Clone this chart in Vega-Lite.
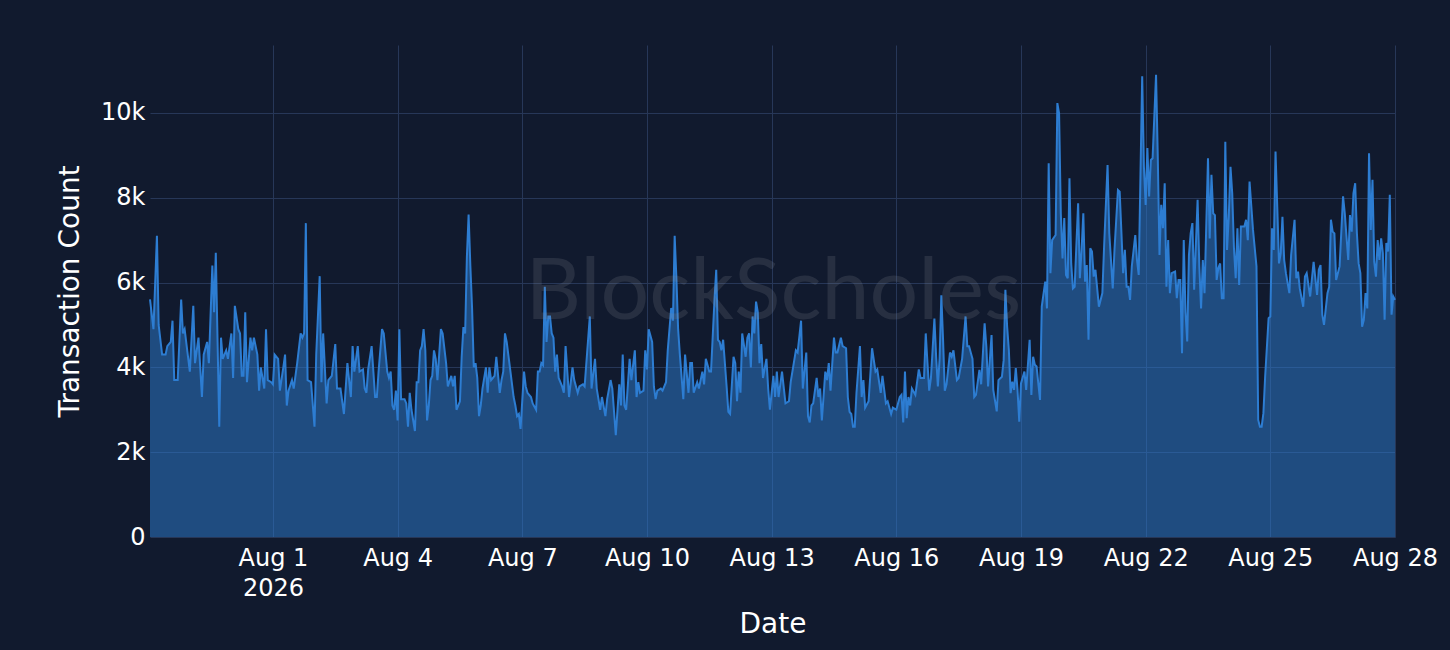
{
  "$schema": "https://vega.github.io/schema/vega-lite/v6.json",
  "width": 1245,
  "height": 492,
  "autosize": {"type": "none"},
  "padding": {"left": 150, "top": 45, "right": 55, "bottom": 113},
  "background": "#111a2e",
  "config": {"view": {"stroke": null}, "font": "DejaVu Sans"},
  "data": {
    "values": [
      {"t": "2026-07-29T01:00", "v": 5600}, {"t": "2026-07-29T03:00", "v": 4900}, {"t": "2026-07-29T05:00", "v": 7100}, {"t": "2026-07-29T06:00", "v": 5000},
      {"t": "2026-07-29T08:00", "v": 4300}, {"t": "2026-07-29T10:00", "v": 4300}, {"t": "2026-07-29T11:00", "v": 4500}, {"t": "2026-07-29T13:00", "v": 4600},
      {"t": "2026-07-29T14:00", "v": 5100}, {"t": "2026-07-29T15:00", "v": 3700}, {"t": "2026-07-29T17:00", "v": 3700}, {"t": "2026-07-29T19:00", "v": 5600},
      {"t": "2026-07-29T20:00", "v": 4800}, {"t": "2026-07-29T21:00", "v": 4900},
      {"t": "2026-07-30T00:00", "v": 3900}, {"t": "2026-07-30T02:00", "v": 5450}, {"t": "2026-07-30T03:00", "v": 4100}, {"t": "2026-07-30T05:00", "v": 4700},
      {"t": "2026-07-30T07:00", "v": 3300}, {"t": "2026-07-30T08:00", "v": 4300}, {"t": "2026-07-30T10:00", "v": 4600}, {"t": "2026-07-30T11:00", "v": 4100},
      {"t": "2026-07-30T13:00", "v": 6400}, {"t": "2026-07-30T14:00", "v": 5300}, {"t": "2026-07-30T15:00", "v": 6700}, {"t": "2026-07-30T17:00", "v": 2600},
      {"t": "2026-07-30T18:00", "v": 4700}, {"t": "2026-07-30T19:00", "v": 4200}, {"t": "2026-07-30T21:00", "v": 4400}, {"t": "2026-07-30T22:00", "v": 4200},
      {"t": "2026-07-31T00:00", "v": 4800}, {"t": "2026-07-31T01:00", "v": 3750}, {"t": "2026-07-31T02:00", "v": 5450}, {"t": "2026-07-31T04:00", "v": 4900},
      {"t": "2026-07-31T05:00", "v": 4800}, {"t": "2026-07-31T06:00", "v": 3800}, {"t": "2026-07-31T07:00", "v": 3800}, {"t": "2026-07-31T08:00", "v": 5300},
      {"t": "2026-07-31T09:00", "v": 3650}, {"t": "2026-07-31T11:00", "v": 4700}, {"t": "2026-07-31T12:00", "v": 4400}, {"t": "2026-07-31T13:00", "v": 4700},
      {"t": "2026-07-31T15:00", "v": 4300}, {"t": "2026-07-31T16:00", "v": 3450}, {"t": "2026-07-31T17:00", "v": 4000}, {"t": "2026-07-31T19:00", "v": 3500},
      {"t": "2026-07-31T20:00", "v": 4900}, {"t": "2026-07-31T21:00", "v": 3700}, {"t": "2026-07-31T23:00", "v": 3650},
      {"t": "2026-08-01T00:00", "v": 3600}, {"t": "2026-08-01T01:00", "v": 4300}, {"t": "2026-08-01T03:00", "v": 4200}, {"t": "2026-08-01T04:00", "v": 3450},
      {"t": "2026-08-01T06:00", "v": 4000}, {"t": "2026-08-01T07:00", "v": 4300}, {"t": "2026-08-01T08:00", "v": 3100}, {"t": "2026-08-01T09:00", "v": 3450},
      {"t": "2026-08-01T11:00", "v": 3700}, {"t": "2026-08-01T12:00", "v": 3500}, {"t": "2026-08-01T14:00", "v": 4100}, {"t": "2026-08-01T16:00", "v": 4800},
      {"t": "2026-08-01T17:00", "v": 4700}, {"t": "2026-08-01T18:00", "v": 4800}, {"t": "2026-08-01T19:00", "v": 7400}, {"t": "2026-08-01T20:00", "v": 3700},
      {"t": "2026-08-01T22:00", "v": 3650},
      {"t": "2026-08-02T00:00", "v": 2600}, {"t": "2026-08-02T01:00", "v": 4300}, {"t": "2026-08-02T03:00", "v": 6150}, {"t": "2026-08-02T04:00", "v": 3650},
      {"t": "2026-08-02T05:00", "v": 4800}, {"t": "2026-08-02T07:00", "v": 3150}, {"t": "2026-08-02T08:00", "v": 3700}, {"t": "2026-08-02T10:00", "v": 3800},
      {"t": "2026-08-02T12:00", "v": 4550}, {"t": "2026-08-02T13:00", "v": 3500}, {"t": "2026-08-02T15:00", "v": 3500}, {"t": "2026-08-02T17:00", "v": 2900},
      {"t": "2026-08-02T19:00", "v": 4100}, {"t": "2026-08-02T21:00", "v": 3300}, {"t": "2026-08-02T22:00", "v": 4500}, {"t": "2026-08-02T23:00", "v": 3900},
      {"t": "2026-08-03T01:00", "v": 4500}, {"t": "2026-08-03T02:00", "v": 3900}, {"t": "2026-08-03T04:00", "v": 3950}, {"t": "2026-08-03T05:00", "v": 3500},
      {"t": "2026-08-03T06:00", "v": 3400}, {"t": "2026-08-03T07:00", "v": 3950}, {"t": "2026-08-03T09:00", "v": 4500}, {"t": "2026-08-03T11:00", "v": 3300},
      {"t": "2026-08-03T12:00", "v": 3300}, {"t": "2026-08-03T13:00", "v": 3900}, {"t": "2026-08-03T15:00", "v": 4900}, {"t": "2026-08-03T16:00", "v": 4800},
      {"t": "2026-08-03T18:00", "v": 3900}, {"t": "2026-08-03T19:00", "v": 3750}, {"t": "2026-08-03T20:00", "v": 3900}, {"t": "2026-08-03T21:00", "v": 3100},
      {"t": "2026-08-03T22:00", "v": 3000}, {"t": "2026-08-03T23:00", "v": 3450},
      {"t": "2026-08-04T00:00", "v": 2750}, {"t": "2026-08-04T01:00", "v": 4900}, {"t": "2026-08-04T02:00", "v": 3250}, {"t": "2026-08-04T04:00", "v": 3250},
      {"t": "2026-08-04T05:00", "v": 3150}, {"t": "2026-08-04T06:00", "v": 2600}, {"t": "2026-08-04T07:00", "v": 3400}, {"t": "2026-08-04T08:00", "v": 3000},
      {"t": "2026-08-04T10:00", "v": 2500}, {"t": "2026-08-04T11:00", "v": 3650}, {"t": "2026-08-04T12:00", "v": 3650}, {"t": "2026-08-04T13:00", "v": 4400},
      {"t": "2026-08-04T14:00", "v": 4500}, {"t": "2026-08-04T15:00", "v": 4900}, {"t": "2026-08-04T16:00", "v": 4400}, {"t": "2026-08-04T17:00", "v": 2750},
      {"t": "2026-08-04T18:00", "v": 3100}, {"t": "2026-08-04T19:00", "v": 3700}, {"t": "2026-08-04T20:00", "v": 3800}, {"t": "2026-08-04T21:00", "v": 4400},
      {"t": "2026-08-04T22:00", "v": 4200}, {"t": "2026-08-04T23:00", "v": 3700},
      {"t": "2026-08-05T00:00", "v": 4300}, {"t": "2026-08-05T01:00", "v": 4900}, {"t": "2026-08-05T02:00", "v": 4800}, {"t": "2026-08-05T04:00", "v": 4100},
      {"t": "2026-08-05T05:00", "v": 3550}, {"t": "2026-08-05T07:00", "v": 3800}, {"t": "2026-08-05T08:00", "v": 3550}, {"t": "2026-08-05T09:00", "v": 3800},
      {"t": "2026-08-05T10:00", "v": 3000}, {"t": "2026-08-05T12:00", "v": 3200}, {"t": "2026-08-05T13:00", "v": 4250}, {"t": "2026-08-05T14:00", "v": 4950},
      {"t": "2026-08-05T15:00", "v": 4800}, {"t": "2026-08-05T16:00", "v": 6600}, {"t": "2026-08-05T17:00", "v": 7600}, {"t": "2026-08-05T18:00", "v": 6400},
      {"t": "2026-08-05T19:00", "v": 5400}, {"t": "2026-08-05T20:00", "v": 4000}, {"t": "2026-08-05T21:00", "v": 4100}, {"t": "2026-08-05T22:00", "v": 3750},
      {"t": "2026-08-05T23:00", "v": 2850},
      {"t": "2026-08-06T00:00", "v": 3100}, {"t": "2026-08-06T01:00", "v": 3500}, {"t": "2026-08-06T03:00", "v": 4000}, {"t": "2026-08-06T04:00", "v": 3400},
      {"t": "2026-08-06T05:00", "v": 4000}, {"t": "2026-08-06T06:00", "v": 3700}, {"t": "2026-08-06T08:00", "v": 3800}, {"t": "2026-08-06T09:00", "v": 4250},
      {"t": "2026-08-06T11:00", "v": 3400}, {"t": "2026-08-06T12:00", "v": 3700}, {"t": "2026-08-06T13:00", "v": 3900}, {"t": "2026-08-06T14:00", "v": 4800},
      {"t": "2026-08-06T15:00", "v": 4600}, {"t": "2026-08-06T17:00", "v": 3950}, {"t": "2026-08-06T19:00", "v": 3300}, {"t": "2026-08-06T20:00", "v": 3100},
      {"t": "2026-08-06T21:00", "v": 2850}, {"t": "2026-08-06T22:00", "v": 2900}, {"t": "2026-08-06T23:00", "v": 2550},
      {"t": "2026-08-07T01:00", "v": 3900}, {"t": "2026-08-07T02:00", "v": 3550}, {"t": "2026-08-07T03:00", "v": 3400}, {"t": "2026-08-07T05:00", "v": 3300},
      {"t": "2026-08-07T06:00", "v": 3150}, {"t": "2026-08-07T08:00", "v": 3000}, {"t": "2026-08-07T09:00", "v": 3900}, {"t": "2026-08-07T10:00", "v": 3900},
      {"t": "2026-08-07T11:00", "v": 4100}, {"t": "2026-08-07T12:00", "v": 4050}, {"t": "2026-08-07T13:00", "v": 5900}, {"t": "2026-08-07T14:00", "v": 4600},
      {"t": "2026-08-07T15:00", "v": 5200}, {"t": "2026-08-07T16:00", "v": 5200}, {"t": "2026-08-07T17:00", "v": 4800}, {"t": "2026-08-07T18:00", "v": 4700},
      {"t": "2026-08-07T19:00", "v": 3900}, {"t": "2026-08-07T20:00", "v": 4300}, {"t": "2026-08-07T21:00", "v": 3750}, {"t": "2026-08-07T23:00", "v": 3550},
      {"t": "2026-08-08T00:00", "v": 3400}, {"t": "2026-08-08T01:00", "v": 4500}, {"t": "2026-08-08T03:00", "v": 3300}, {"t": "2026-08-08T05:00", "v": 4000},
      {"t": "2026-08-08T06:00", "v": 3700}, {"t": "2026-08-08T08:00", "v": 3400}, {"t": "2026-08-08T09:00", "v": 3550}, {"t": "2026-08-08T11:00", "v": 3600},
      {"t": "2026-08-08T12:00", "v": 3550}, {"t": "2026-08-08T15:00", "v": 5200}, {"t": "2026-08-08T16:00", "v": 3500}, {"t": "2026-08-08T18:00", "v": 4200},
      {"t": "2026-08-08T19:00", "v": 3500}, {"t": "2026-08-08T21:00", "v": 3000}, {"t": "2026-08-08T22:00", "v": 3300},
      {"t": "2026-08-09T00:00", "v": 2850}, {"t": "2026-08-09T01:00", "v": 3250}, {"t": "2026-08-09T03:00", "v": 3700}, {"t": "2026-08-09T04:00", "v": 3500},
      {"t": "2026-08-09T06:00", "v": 2400}, {"t": "2026-08-09T08:00", "v": 3600}, {"t": "2026-08-09T09:00", "v": 3100}, {"t": "2026-08-09T10:00", "v": 4300},
      {"t": "2026-08-09T11:00", "v": 3100}, {"t": "2026-08-09T12:00", "v": 3000}, {"t": "2026-08-09T14:00", "v": 4200}, {"t": "2026-08-09T15:00", "v": 3700},
      {"t": "2026-08-09T17:00", "v": 4400}, {"t": "2026-08-09T18:00", "v": 3300}, {"t": "2026-08-09T19:00", "v": 3650}, {"t": "2026-08-09T20:00", "v": 3400},
      {"t": "2026-08-09T22:00", "v": 3450}, {"t": "2026-08-09T23:00", "v": 4400},
      {"t": "2026-08-10T00:00", "v": 3950}, {"t": "2026-08-10T01:00", "v": 4900}, {"t": "2026-08-10T03:00", "v": 4600}, {"t": "2026-08-10T04:00", "v": 3550},
      {"t": "2026-08-10T05:00", "v": 3250}, {"t": "2026-08-10T06:00", "v": 3450}, {"t": "2026-08-10T08:00", "v": 3500}, {"t": "2026-08-10T09:00", "v": 3450},
      {"t": "2026-08-10T11:00", "v": 3650}, {"t": "2026-08-10T12:00", "v": 4400}, {"t": "2026-08-10T14:00", "v": 5400}, {"t": "2026-08-10T15:00", "v": 5100},
      {"t": "2026-08-10T16:00", "v": 7100}, {"t": "2026-08-10T17:00", "v": 6100}, {"t": "2026-08-10T18:00", "v": 4900}, {"t": "2026-08-10T19:00", "v": 4300},
      {"t": "2026-08-10T21:00", "v": 3250}, {"t": "2026-08-10T22:00", "v": 4300},
      {"t": "2026-08-11T00:00", "v": 3400}, {"t": "2026-08-11T01:00", "v": 4100}, {"t": "2026-08-11T02:00", "v": 4100}, {"t": "2026-08-11T03:00", "v": 3400},
      {"t": "2026-08-11T05:00", "v": 3650}, {"t": "2026-08-11T06:00", "v": 3500}, {"t": "2026-08-11T08:00", "v": 3900}, {"t": "2026-08-11T09:00", "v": 3600},
      {"t": "2026-08-11T10:00", "v": 4200}, {"t": "2026-08-11T12:00", "v": 3900}, {"t": "2026-08-11T13:00", "v": 3900}, {"t": "2026-08-11T15:00", "v": 5600},
      {"t": "2026-08-11T16:00", "v": 6300}, {"t": "2026-08-11T17:00", "v": 4650}, {"t": "2026-08-11T18:00", "v": 4600}, {"t": "2026-08-11T19:00", "v": 4400},
      {"t": "2026-08-11T20:00", "v": 4650}, {"t": "2026-08-11T22:00", "v": 3550}, {"t": "2026-08-11T23:00", "v": 2950},
      {"t": "2026-08-12T00:00", "v": 2900}, {"t": "2026-08-12T02:00", "v": 4250}, {"t": "2026-08-12T03:00", "v": 4100}, {"t": "2026-08-12T04:00", "v": 3200},
      {"t": "2026-08-12T05:00", "v": 3900}, {"t": "2026-08-12T06:00", "v": 3400}, {"t": "2026-08-12T07:00", "v": 4800}, {"t": "2026-08-12T09:00", "v": 4250},
      {"t": "2026-08-12T10:00", "v": 4700}, {"t": "2026-08-12T11:00", "v": 4800}, {"t": "2026-08-12T12:00", "v": 4000}, {"t": "2026-08-12T13:00", "v": 5200},
      {"t": "2026-08-12T14:00", "v": 4800}, {"t": "2026-08-12T15:00", "v": 5550}, {"t": "2026-08-12T16:00", "v": 5300}, {"t": "2026-08-12T17:00", "v": 4100},
      {"t": "2026-08-12T18:00", "v": 4550}, {"t": "2026-08-12T19:00", "v": 3750}, {"t": "2026-08-12T21:00", "v": 4200}, {"t": "2026-08-12T22:00", "v": 3500},
      {"t": "2026-08-12T23:00", "v": 3000},
      {"t": "2026-08-13T01:00", "v": 3800}, {"t": "2026-08-13T02:00", "v": 3300}, {"t": "2026-08-13T03:00", "v": 3900}, {"t": "2026-08-13T04:00", "v": 3300},
      {"t": "2026-08-13T06:00", "v": 3900}, {"t": "2026-08-13T08:00", "v": 3150}, {"t": "2026-08-13T10:00", "v": 3200}, {"t": "2026-08-13T11:00", "v": 3650},
      {"t": "2026-08-13T14:00", "v": 4400}, {"t": "2026-08-13T15:00", "v": 4350}, {"t": "2026-08-13T17:00", "v": 5100}, {"t": "2026-08-13T18:00", "v": 3500},
      {"t": "2026-08-13T20:00", "v": 4350}, {"t": "2026-08-13T21:00", "v": 2850}, {"t": "2026-08-13T22:00", "v": 2700}, {"t": "2026-08-13T23:00", "v": 3100},
      {"t": "2026-08-14T00:00", "v": 3150}, {"t": "2026-08-14T02:00", "v": 3750}, {"t": "2026-08-14T03:00", "v": 3300}, {"t": "2026-08-14T04:00", "v": 3500},
      {"t": "2026-08-14T05:00", "v": 2750}, {"t": "2026-08-14T07:00", "v": 3900}, {"t": "2026-08-14T08:00", "v": 3700}, {"t": "2026-08-14T09:00", "v": 4100},
      {"t": "2026-08-14T10:00", "v": 3450}, {"t": "2026-08-14T12:00", "v": 4700}, {"t": "2026-08-14T13:00", "v": 4350}, {"t": "2026-08-14T14:00", "v": 4350},
      {"t": "2026-08-14T16:00", "v": 4700}, {"t": "2026-08-14T17:00", "v": 4500}, {"t": "2026-08-14T19:00", "v": 4450}, {"t": "2026-08-14T20:00", "v": 3300},
      {"t": "2026-08-14T21:00", "v": 2950}, {"t": "2026-08-14T22:00", "v": 2900}, {"t": "2026-08-14T23:00", "v": 2600},
      {"t": "2026-08-15T00:00", "v": 2600}, {"t": "2026-08-15T01:00", "v": 3400}, {"t": "2026-08-15T03:00", "v": 4500}, {"t": "2026-08-15T04:00", "v": 3300},
      {"t": "2026-08-15T05:00", "v": 3700}, {"t": "2026-08-15T06:00", "v": 3050}, {"t": "2026-08-15T08:00", "v": 3200}, {"t": "2026-08-15T10:00", "v": 4450},
      {"t": "2026-08-15T12:00", "v": 3900}, {"t": "2026-08-15T13:00", "v": 3950}, {"t": "2026-08-15T15:00", "v": 3400}, {"t": "2026-08-15T16:00", "v": 3800},
      {"t": "2026-08-15T18:00", "v": 3150}, {"t": "2026-08-15T19:00", "v": 3200}, {"t": "2026-08-15T21:00", "v": 2900}, {"t": "2026-08-15T22:00", "v": 3050},
      {"t": "2026-08-16T00:00", "v": 3000}, {"t": "2026-08-16T02:00", "v": 3300}, {"t": "2026-08-16T03:00", "v": 3350}, {"t": "2026-08-16T04:00", "v": 2700},
      {"t": "2026-08-16T05:00", "v": 3900}, {"t": "2026-08-16T06:00", "v": 2800}, {"t": "2026-08-16T07:00", "v": 3300}, {"t": "2026-08-16T08:00", "v": 3100},
      {"t": "2026-08-16T09:00", "v": 3500}, {"t": "2026-08-16T11:00", "v": 3350}, {"t": "2026-08-16T13:00", "v": 3950}, {"t": "2026-08-16T14:00", "v": 3750},
      {"t": "2026-08-16T16:00", "v": 3750}, {"t": "2026-08-16T17:00", "v": 4800}, {"t": "2026-08-16T18:00", "v": 4100}, {"t": "2026-08-16T19:00", "v": 3450},
      {"t": "2026-08-16T20:00", "v": 3750}, {"t": "2026-08-16T22:00", "v": 5150}, {"t": "2026-08-16T23:00", "v": 4250},
      {"t": "2026-08-17T00:00", "v": 3550}, {"t": "2026-08-17T01:00", "v": 4200}, {"t": "2026-08-17T02:00", "v": 5700}, {"t": "2026-08-17T03:00", "v": 4650},
      {"t": "2026-08-17T04:00", "v": 3450}, {"t": "2026-08-17T05:00", "v": 3600}, {"t": "2026-08-17T07:00", "v": 4350}, {"t": "2026-08-17T08:00", "v": 4250},
      {"t": "2026-08-17T09:00", "v": 4400}, {"t": "2026-08-17T11:00", "v": 3700}, {"t": "2026-08-17T12:00", "v": 3750}, {"t": "2026-08-17T14:00", "v": 4200},
      {"t": "2026-08-17T16:00", "v": 5200}, {"t": "2026-08-17T17:00", "v": 4500}, {"t": "2026-08-17T18:00", "v": 4500}, {"t": "2026-08-17T20:00", "v": 4200},
      {"t": "2026-08-17T21:00", "v": 3300}, {"t": "2026-08-17T22:00", "v": 3350},
      {"t": "2026-08-18T00:00", "v": 3940}, {"t": "2026-08-18T01:00", "v": 3600}, {"t": "2026-08-18T03:00", "v": 5040}, {"t": "2026-08-18T04:00", "v": 4490},
      {"t": "2026-08-18T05:00", "v": 3550}, {"t": "2026-08-18T07:00", "v": 4760}, {"t": "2026-08-18T08:00", "v": 3470}, {"t": "2026-08-18T10:00", "v": 2960},
      {"t": "2026-08-18T11:00", "v": 3700}, {"t": "2026-08-18T13:00", "v": 3780}, {"t": "2026-08-18T14:00", "v": 4170}, {"t": "2026-08-18T15:00", "v": 5830},
      {"t": "2026-08-18T16:00", "v": 4960}, {"t": "2026-08-18T17:00", "v": 4410}, {"t": "2026-08-18T18:00", "v": 3390}, {"t": "2026-08-18T19:00", "v": 3660},
      {"t": "2026-08-18T20:00", "v": 3470}, {"t": "2026-08-18T21:00", "v": 3980}, {"t": "2026-08-18T22:00", "v": 3470}, {"t": "2026-08-18T23:00", "v": 2720},
      {"t": "2026-08-19T00:00", "v": 3620}, {"t": "2026-08-19T02:00", "v": 3900}, {"t": "2026-08-19T03:00", "v": 3470}, {"t": "2026-08-19T05:00", "v": 4650},
      {"t": "2026-08-19T06:00", "v": 3350}, {"t": "2026-08-19T07:00", "v": 4250}, {"t": "2026-08-19T08:00", "v": 4060}, {"t": "2026-08-19T09:00", "v": 4020},
      {"t": "2026-08-19T11:00", "v": 3230}, {"t": "2026-08-19T12:00", "v": 5430}, {"t": "2026-08-19T14:00", "v": 6020}, {"t": "2026-08-19T15:00", "v": 5390},
      {"t": "2026-08-19T16:00", "v": 8810}, {"t": "2026-08-19T17:00", "v": 6220}, {"t": "2026-08-19T18:00", "v": 7000}, {"t": "2026-08-19T20:00", "v": 7120},
      {"t": "2026-08-19T21:00", "v": 10230}, {"t": "2026-08-19T22:00", "v": 9990}, {"t": "2026-08-19T23:00", "v": 7630},
      {"t": "2026-08-20T00:00", "v": 6570}, {"t": "2026-08-20T01:00", "v": 7520}, {"t": "2026-08-20T02:00", "v": 6180}, {"t": "2026-08-20T03:00", "v": 6100},
      {"t": "2026-08-20T04:00", "v": 8460}, {"t": "2026-08-20T05:00", "v": 6450}, {"t": "2026-08-20T06:00", "v": 5860}, {"t": "2026-08-20T07:00", "v": 5900},
      {"t": "2026-08-20T09:00", "v": 7870}, {"t": "2026-08-20T10:00", "v": 6100}, {"t": "2026-08-20T11:00", "v": 6770}, {"t": "2026-08-20T12:00", "v": 7630},
      {"t": "2026-08-20T13:00", "v": 6020}, {"t": "2026-08-20T14:00", "v": 6410}, {"t": "2026-08-20T15:00", "v": 4650}, {"t": "2026-08-20T16:00", "v": 6810},
      {"t": "2026-08-20T17:00", "v": 6730}, {"t": "2026-08-20T18:00", "v": 6140}, {"t": "2026-08-20T19:00", "v": 6300}, {"t": "2026-08-20T21:00", "v": 5430},
      {"t": "2026-08-20T23:00", "v": 5750},
      {"t": "2026-08-21T00:00", "v": 6850}, {"t": "2026-08-21T02:00", "v": 8770}, {"t": "2026-08-21T03:00", "v": 7160}, {"t": "2026-08-21T05:00", "v": 5860},
      {"t": "2026-08-21T06:00", "v": 6770}, {"t": "2026-08-21T08:00", "v": 8180}, {"t": "2026-08-21T09:00", "v": 8140}, {"t": "2026-08-21T11:00", "v": 6220},
      {"t": "2026-08-21T12:00", "v": 6770}, {"t": "2026-08-21T13:00", "v": 5900}, {"t": "2026-08-21T14:00", "v": 5900}, {"t": "2026-08-21T15:00", "v": 5590},
      {"t": "2026-08-21T16:00", "v": 6380}, {"t": "2026-08-21T18:00", "v": 7120}, {"t": "2026-08-21T19:00", "v": 6530}, {"t": "2026-08-21T20:00", "v": 6180},
      {"t": "2026-08-21T22:00", "v": 10860}, {"t": "2026-08-21T23:00", "v": 8730},
      {"t": "2026-08-22T00:00", "v": 7830}, {"t": "2026-08-22T01:00", "v": 9170}, {"t": "2026-08-22T02:00", "v": 8030}, {"t": "2026-08-22T03:00", "v": 8890},
      {"t": "2026-08-22T04:00", "v": 8930}, {"t": "2026-08-22T06:00", "v": 10900}, {"t": "2026-08-22T07:00", "v": 8970}, {"t": "2026-08-22T08:00", "v": 6650},
      {"t": "2026-08-22T09:00", "v": 7830}, {"t": "2026-08-22T10:00", "v": 7280}, {"t": "2026-08-22T11:00", "v": 8340}, {"t": "2026-08-22T12:00", "v": 5900},
      {"t": "2026-08-22T13:00", "v": 7000}, {"t": "2026-08-22T14:00", "v": 5750}, {"t": "2026-08-22T15:00", "v": 6220}, {"t": "2026-08-22T17:00", "v": 6260},
      {"t": "2026-08-22T18:00", "v": 5630}, {"t": "2026-08-22T19:00", "v": 6060}, {"t": "2026-08-22T20:00", "v": 6060}, {"t": "2026-08-22T21:00", "v": 4330},
      {"t": "2026-08-22T22:00", "v": 7000}, {"t": "2026-08-22T23:00", "v": 5310},
      {"t": "2026-08-23T00:00", "v": 4610}, {"t": "2026-08-23T01:00", "v": 6650}, {"t": "2026-08-23T02:00", "v": 7160}, {"t": "2026-08-23T03:00", "v": 7400},
      {"t": "2026-08-23T04:00", "v": 5830}, {"t": "2026-08-23T06:00", "v": 7950}, {"t": "2026-08-23T07:00", "v": 6380}, {"t": "2026-08-23T08:00", "v": 5390},
      {"t": "2026-08-23T09:00", "v": 6530}, {"t": "2026-08-23T10:00", "v": 5750}, {"t": "2026-08-23T12:00", "v": 8930}, {"t": "2026-08-23T13:00", "v": 7040},
      {"t": "2026-08-23T14:00", "v": 8540}, {"t": "2026-08-23T15:00", "v": 7630}, {"t": "2026-08-23T16:00", "v": 7590}, {"t": "2026-08-23T17:00", "v": 6060},
      {"t": "2026-08-23T18:00", "v": 6340}, {"t": "2026-08-23T19:00", "v": 6450}, {"t": "2026-08-23T20:00", "v": 5630}, {"t": "2026-08-23T21:00", "v": 5630},
      {"t": "2026-08-23T22:00", "v": 9320}, {"t": "2026-08-23T23:00", "v": 6770},
      {"t": "2026-08-24T00:00", "v": 7550}, {"t": "2026-08-24T01:00", "v": 8730}, {"t": "2026-08-24T02:00", "v": 8100}, {"t": "2026-08-24T03:00", "v": 6810},
      {"t": "2026-08-24T04:00", "v": 6100}, {"t": "2026-08-24T05:00", "v": 7280}, {"t": "2026-08-24T06:00", "v": 5940}, {"t": "2026-08-24T07:00", "v": 7320},
      {"t": "2026-08-24T09:00", "v": 7320}, {"t": "2026-08-24T10:00", "v": 7480}, {"t": "2026-08-24T11:00", "v": 7000}, {"t": "2026-08-24T12:00", "v": 8380},
      {"t": "2026-08-24T14:00", "v": 7240}, {"t": "2026-08-24T16:00", "v": 6380}, {"t": "2026-08-24T17:00", "v": 2760}, {"t": "2026-08-24T18:00", "v": 2600},
      {"t": "2026-08-24T19:00", "v": 2600}, {"t": "2026-08-24T20:00", "v": 2920}, {"t": "2026-08-24T21:00", "v": 3780}, {"t": "2026-08-24T23:00", "v": 5160},
      {"t": "2026-08-25T00:00", "v": 5200}, {"t": "2026-08-25T01:00", "v": 7280}, {"t": "2026-08-25T02:00", "v": 6770}, {"t": "2026-08-25T03:00", "v": 9090},
      {"t": "2026-08-25T04:00", "v": 7790}, {"t": "2026-08-25T05:00", "v": 6450}, {"t": "2026-08-25T06:00", "v": 6690}, {"t": "2026-08-25T07:00", "v": 7550},
      {"t": "2026-08-25T08:00", "v": 6530}, {"t": "2026-08-25T09:00", "v": 6220}, {"t": "2026-08-25T11:00", "v": 5750}, {"t": "2026-08-25T12:00", "v": 6650},
      {"t": "2026-08-25T14:00", "v": 7480}, {"t": "2026-08-25T15:00", "v": 6100}, {"t": "2026-08-25T16:00", "v": 6260}, {"t": "2026-08-25T17:00", "v": 5860},
      {"t": "2026-08-25T19:00", "v": 5430}, {"t": "2026-08-25T20:00", "v": 6140}, {"t": "2026-08-25T21:00", "v": 6220}, {"t": "2026-08-25T23:00", "v": 5670},
      {"t": "2026-08-26T01:00", "v": 6490}, {"t": "2026-08-26T03:00", "v": 5710}, {"t": "2026-08-26T04:00", "v": 6300}, {"t": "2026-08-26T05:00", "v": 6410},
      {"t": "2026-08-26T06:00", "v": 5240}, {"t": "2026-08-26T07:00", "v": 5000}, {"t": "2026-08-26T09:00", "v": 5750}, {"t": "2026-08-26T10:00", "v": 5900},
      {"t": "2026-08-26T11:00", "v": 7480}, {"t": "2026-08-26T12:00", "v": 7200}, {"t": "2026-08-26T13:00", "v": 7160}, {"t": "2026-08-26T14:00", "v": 6060},
      {"t": "2026-08-26T16:00", "v": 6380}, {"t": "2026-08-26T18:00", "v": 8030}, {"t": "2026-08-26T19:00", "v": 7630}, {"t": "2026-08-26T21:00", "v": 6530},
      {"t": "2026-08-26T22:00", "v": 7590}, {"t": "2026-08-26T23:00", "v": 7200},
      {"t": "2026-08-27T00:00", "v": 8100}, {"t": "2026-08-27T01:00", "v": 8340}, {"t": "2026-08-27T02:00", "v": 7160}, {"t": "2026-08-27T03:00", "v": 6450},
      {"t": "2026-08-27T04:00", "v": 6220}, {"t": "2026-08-27T05:00", "v": 4960}, {"t": "2026-08-27T06:00", "v": 5120}, {"t": "2026-08-27T07:00", "v": 5750},
      {"t": "2026-08-27T08:00", "v": 5390}, {"t": "2026-08-27T09:00", "v": 9050}, {"t": "2026-08-27T10:00", "v": 7240}, {"t": "2026-08-27T11:00", "v": 8420},
      {"t": "2026-08-27T12:00", "v": 6490}, {"t": "2026-08-27T13:00", "v": 6140}, {"t": "2026-08-27T14:00", "v": 7000}, {"t": "2026-08-27T15:00", "v": 6530},
      {"t": "2026-08-27T16:00", "v": 7040}, {"t": "2026-08-27T17:00", "v": 6690}, {"t": "2026-08-27T18:00", "v": 5120}, {"t": "2026-08-27T19:00", "v": 6930},
      {"t": "2026-08-27T20:00", "v": 6730}, {"t": "2026-08-27T21:00", "v": 8070}, {"t": "2026-08-27T22:00", "v": 5240}, {"t": "2026-08-27T23:00", "v": 5670},
      {"t": "2026-08-28T00:00", "v": 5590}
    ]
  },
  "layer": [
    {
      "mark": {
        "type": "area",
        "color": "#2d7dd2",
        "fillOpacity": 0.5,
        "line": {"color": "#2d7dd2", "strokeWidth": 2}
      },
      "encoding": {
        "x": {
          "field": "t",
          "type": "temporal",
          "title": "Date",
          "scale": {
            "domain": [
              {"year": 2026, "month": 7, "date": 29, "hours": 1},
              {"year": 2026, "month": 8, "date": 28}
            ]
          },
          "axis": {
            "values": [
              {"year": 2026, "month": 8, "date": 1},
              {"year": 2026, "month": 8, "date": 4},
              {"year": 2026, "month": 8, "date": 7},
              {"year": 2026, "month": 8, "date": 10},
              {"year": 2026, "month": 8, "date": 13},
              {"year": 2026, "month": 8, "date": 16},
              {"year": 2026, "month": 8, "date": 19},
              {"year": 2026, "month": 8, "date": 22},
              {"year": 2026, "month": 8, "date": 25},
              {"year": 2026, "month": 8, "date": 28}
            ],
            "labelExpr": "date(datum.value) == 1 ? [timeFormat(datum.value, '%b %-d'), '2026'] : timeFormat(datum.value, '%b %-d')",
            "grid": true,
            "gridColor": "#273758",
            "gridWidth": 1,
            "domain": false,
            "ticks": false,
            "labelColor": "#ffffff",
            "labelFontSize": 24,
            "labelPadding": 9,
            "labelLineHeight": 30,
            "labelFlush": false,
            "labelOverlap": false,
            "titleColor": "#ffffff",
            "titleFontSize": 28,
            "titleFontWeight": "normal",
            "titlePadding": 10
          }
        },
        "y": {
          "field": "v",
          "type": "quantitative",
          "title": "Transaction Count",
          "scale": {"domain": [0, 11600], "nice": false},
          "axis": {
            "values": [0, 2000, 4000, 6000, 8000, 10000],
            "labelExpr": "datum.value == 0 ? '0' : format(datum.value / 1000, 'd') + 'k'",
            "grid": true,
            "gridColor": "#273758",
            "gridWidth": 1,
            "domain": false,
            "ticks": false,
            "labelColor": "#ffffff",
            "labelFontSize": 24,
            "labelPadding": 5,
            "titleColor": "#ffffff",
            "titleFontSize": 28,
            "titleFontWeight": "normal",
            "titlePadding": 16
          }
        }
      }
    },
    {
      "data": {"values": [{"t": "2026-08-13T01:00", "v": 5750, "label": "BlockScholes"}]},
      "mark": {
        "type": "text",
        "font": "Lato",
        "fontSize": 86,
        "color": "#8a8f99",
        "opacity": 0.18,
        "align": "center",
        "baseline": "middle"
      },
      "encoding": {
        "x": {"field": "t", "type": "temporal", "title": "Date"},
        "y": {"field": "v", "type": "quantitative", "title": "Transaction Count"},
        "text": {"field": "label"}
      }
    }
  ]
}
